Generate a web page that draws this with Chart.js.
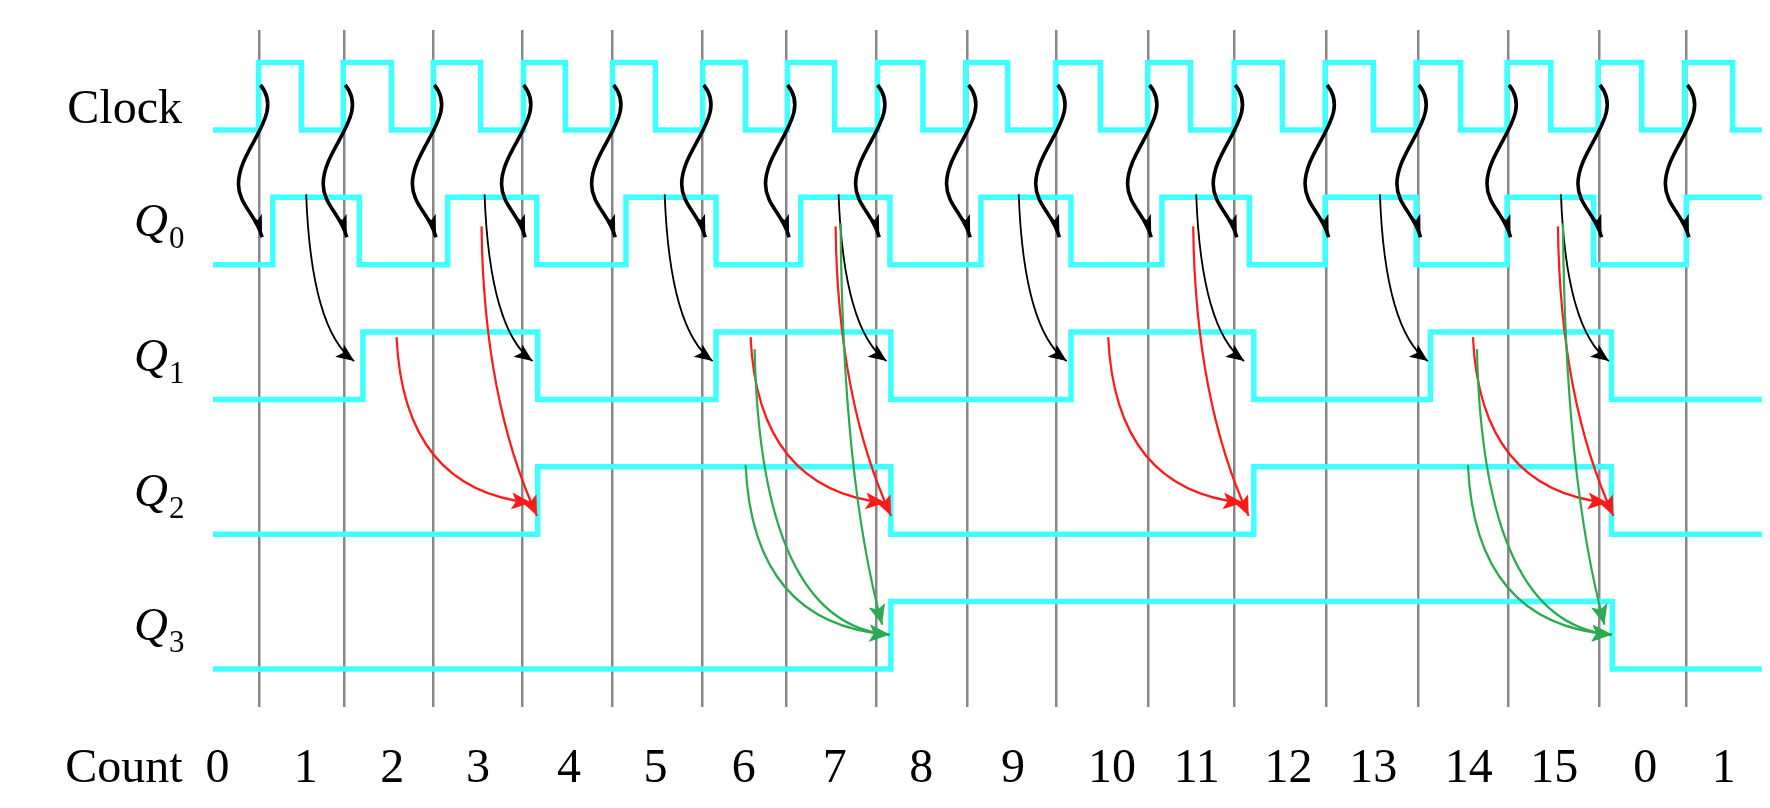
<!DOCTYPE html>
<html>
<head>
<meta charset="utf-8">
<script src="https://cdn.jsdelivr.net/npm/chart.js@4.4.0/dist/chart.umd.min.js"></script>
<style>
  html, body { margin: 0; padding: 0; background: #fff; }
  #wrap { width: 1770px; height: 808px; }
</style>
</head>
<body>
<div id="wrap"><canvas id="timing"></canvas></div>
<script>
// time is in clock periods, edge 0 = first rising clock edge
const edgeTimes = [0, 0.95, 1.95, 2.95, 3.96, 4.97, 5.91, 6.92, 7.94, 8.94, 9.97, 10.93, 11.96, 12.99, 14.0, 15.02, 16.0];

// toggle times of each signal, every signal starts low
const clockToggles = [-0.01, 0.47, 0.94, 1.48, 1.95, 2.48, 2.96, 3.43, 3.96, 4.44, 4.97, 5.45, 5.92, 6.45,
  6.93, 7.44, 7.92, 8.39, 8.93, 9.43, 9.96, 10.44, 10.93, 11.47, 11.95, 12.49, 12.97, 13.47, 13.99, 14.48,
  15.01, 15.50, 15.98, 16.52];
const q0Toggles = [0.15, 1.12, 2.11, 3.11, 4.11, 5.12, 6.07, 7.07, 8.09, 9.10, 10.12, 11.10, 11.95, 12.97, 13.99, 14.96, 16.00];
const q1Toggles = [1.16, 3.12, 5.12, 7.08, 9.10, 11.15, 13.13, 15.16];
const q2Toggles = [3.12, 7.08, 11.15, 15.16];
const q3Toggles = [7.08, 15.17];

const signalNames = ["Clock", "Q0", "Q1", "Q2", "Q3"];
const signalBase = [4, 3, 2, 1, 0];

const countLabels = ["0", "1", "2", "3", "4", "5", "6", "7", "8", "9", "10", "11", "12", "13", "14", "15", "0", "1"];
const countPos = [-0.47, 0.52, 1.49, 2.45, 3.47, 4.44, 5.43, 6.45, 7.42, 8.45, 9.56, 10.51, 11.54, 12.49, 13.56, 14.52, 15.54, 16.42];

// which clock edges carry which arrows
const clockArrowEdges = [0, 1, 2, 3, 4, 5, 6, 7, 8, 9, 10, 11, 12, 13, 14, 15, 16];
const q1ArrowEdges = [1, 3, 5, 7, 9, 11, 13, 15];
const q2ArrowEdges = [3, 7, 11, 15];
const q3ArrowEdges = [7, 15];

const xMin = -0.521, xMax = 16.847;
const yMin = -0.282, yMax = 4.742;

function wave(toggles, base) {
  let lvl = 0;
  const pts = [{ x: xMin, y: base }];
  toggles.forEach(t => {
    lvl = 1 - lvl;
    pts.push({ x: t, y: base + lvl * 0.5 });
  });
  pts.push({ x: xMax, y: base + lvl * 0.5 });
  return pts;
}

const allToggles = [clockToggles, q0Toggles, q1Toggles, q2Toggles, q3Toggles];

const CYAN = "#40FFFF";
const RED = "#FF1A1A";
const GREEN = "#2BAA52";

function arrowHead(ctx, x, y, ang, len, w, color) {
  ctx.save();
  ctx.translate(x, y);
  ctx.rotate(ang);
  ctx.beginPath();
  ctx.moveTo(0, 0);
  ctx.lineTo(-len, w);
  ctx.lineTo(-len * 0.78, 0);
  ctx.lineTo(-len, -w);
  ctx.closePath();
  ctx.fillStyle = color;
  ctx.fill();
  ctx.restore();
}

function quadArrow(ctx, p0, p1, p2, color, lw, len, w) {
  ctx.save();
  ctx.strokeStyle = color;
  ctx.lineWidth = lw;
  ctx.beginPath();
  ctx.moveTo(p0[0], p0[1]);
  ctx.quadraticCurveTo(p1[0], p1[1], p2[0], p2[1]);
  ctx.stroke();
  ctx.restore();
  arrowHead(ctx, p2[0], p2[1], Math.atan2(p2[1] - p1[1], p2[0] - p1[0]), len, w, color);
}

const timingPlugin = {
  id: "timing",
  afterDraw(chart) {
    const ctx = chart.ctx;
    const xs = chart.scales.x, ys = chart.scales.y;
    const lo = i => ys.getPixelForValue(signalBase[i]);
    const hi = i => ys.getPixelForValue(signalBase[i] + 0.5);
    const gx = k => xs.getPixelForValue(edgeTimes[k]);

    // signal names
    ctx.save();
    ctx.fillStyle = "#000";
    ctx.textBaseline = "alphabetic";
    signalNames.forEach((name, i) => {
      if (i === 0) {
        ctx.font = '48px "Liberation Serif"';
        ctx.textAlign = "right";
        ctx.fillText(name, 182, lo(i) - 7);
      } else {
        ctx.font = 'italic 47px "Liberation Serif"';
        ctx.textAlign = "right";
        ctx.fillText(name[0], 168, lo(i) - 28.5);
        ctx.font = '31px "Liberation Serif"';
        ctx.textAlign = "left";
        ctx.fillText(name.slice(1), 169, lo(i) - 16.5);
      }
    });
    ctx.font = '48px "Liberation Serif"';
    ctx.textAlign = "right";
    ctx.textBaseline = "middle";
    ctx.fillText("Count", 182.5, xs.top + 34 + 28.8);
    ctx.restore();

    // clock -> Q0 wavy arrows
    clockArrowEdges.forEach(k => {
      const x = gx(k), y = lo(0);
      ctx.save();
      ctx.strokeStyle = "#000";
      ctx.lineWidth = 3.6;
      ctx.beginPath();
      ctx.moveTo(x + 1, y - 45);
      ctx.bezierCurveTo(x + 26, y - 15, x - 21, y + 18, x - 21, y + 54);
      ctx.bezierCurveTo(x - 21, y + 75, x - 3, y + 85, x + 2.6, y + 107.3);
      ctx.stroke();
      ctx.restore();
      arrowHead(ctx, x + 2.6, y + 107.3, Math.atan2(22.3, 5.6), 23, 5.5, "#000");
    });

    // Q0 -> Q1
    q1ArrowEdges.forEach(k => {
      const x = gx(k);
      quadArrow(ctx, [x - 38, hi(1) - 3], [x - 33, hi(2) - 2], [x + 10, hi(2) + 29], "#000", 1.8, 18, 7.5);
    });

    // Q0, Q1 -> Q2
    q2ArrowEdges.forEach(k => {
      const x = gx(k);
      quadArrow(ctx, [x - 126, hi(2) + 5], [x - 119, hi(3) + 23], [x + 9, hi(3) + 36], RED, 2.2, 20, 8.5);
      quadArrow(ctx, [x - 41, hi(1) + 29], [x - 39, lo(2)], [x + 14.5, hi(3) + 49], RED, 2.2, 20, 8.5);
    });

    // Q0, Q1, Q2 -> Q3
    q3ArrowEdges.forEach(k => {
      const x = gx(k);
      quadArrow(ctx, [x - 131, hi(3) - 2], [x - 124, hi(4) + 23], [x + 13, hi(4) + 33], GREEN, 2.2, 20, 8.5);
      quadArrow(ctx, [x - 122, hi(2) + 17], [x - 116, hi(4) + 23], [x + 13, hi(4) + 33], GREEN, 2.2, 20, 8.5);
      quadArrow(ctx, [x - 36, hi(1) + 26], [x - 34, lo(2) + 80], [x + 5.5, hi(4) + 23], GREEN, 2.2, 20, 8.5);
    });
  }
};

new Chart(document.getElementById("timing"), {
  type: "line",
  data: {
    datasets: allToggles.map((tg, i) => ({
      label: signalNames[i],
      data: wave(tg, signalBase[i]),
      stepped: "before",
      borderColor: CYAN,
      borderWidth: 5.5,
      borderJoinStyle: "miter",
      pointRadius: 0,
      fill: false,
    })),
  },
  options: {
    responsive: true,
    maintainAspectRatio: false,
    animation: false,
    parsing: false,
    layout: { padding: { left: 213, right: 1, top: 30, bottom: 0 } },
    plugins: {
      legend: { display: false },
      tooltip: { enabled: false },
    },
    scales: {
      x: {
        type: "linear",
        position: "bottom",
        min: xMin,
        max: xMax,
        afterBuildTicks: s => { s.ticks = countPos.map(v => ({ value: v })); },
        afterFit: s => { s.height = 101; },
        grid: { display: false, drawTicks: false },
        border: { display: false },
        ticks: {
          autoSkip: false,
          maxRotation: 0,
          padding: 34,
          color: "#000",
          font: { family: "Liberation Serif", size: 48 },
          callback: (v, i) => countLabels[i],
        },
      },
      xe: {
        type: "linear",
        position: "top",
        min: xMin,
        max: xMax,
        z: 1,
        afterBuildTicks: s => { s.ticks = edgeTimes.map(v => ({ value: v })); },
        afterFit: s => { s.height = 0; },
        grid: { color: "#888888", lineWidth: 2.5, drawTicks: false },
        border: { display: false },
        ticks: { display: false },
      },
      y: {
        type: "linear",
        display: false,
        min: yMin,
        max: yMax,
      },
    },
  },
  plugins: [timingPlugin],
});
</script>
</body>
</html>
